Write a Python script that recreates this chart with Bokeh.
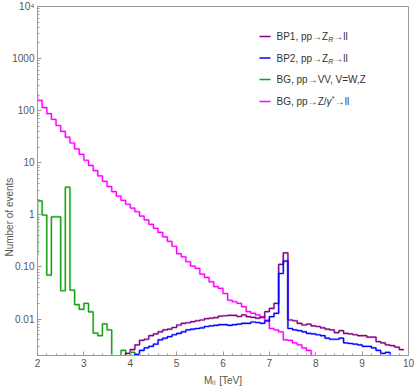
import numpy as np
from bokeh.plotting import figure
from bokeh.models import Range1d, FixedTicker, Label, BoxAnnotation
from bokeh.embed import file_html
from bokeh.resources import INLINE

# ---------------- data (events per 0.1 TeV bin) ----------------
BIN_WIDTH = 0.1

bp1_start = 3.9
bp1_events = [0.0022, 0.0026, 0.0032, 0.0039, 0.0041, 0.0048, 0.0052, 0.0057, 0.0062, 0.0064,
              0.0069, 0.0077, 0.0083, 0.0085, 0.0089, 0.0093, 0.0096, 0.0102, 0.0104, 0.0107,
              0.0114, 0.0116, 0.0118, 0.0118, 0.0112, 0.0120, 0.0111, 0.0108, 0.0104, 0.0108,
              0.0139, 0.016, 0.020, 0.112, 0.187, 0.0096, 0.0093, 0.0083, 0.0077, 0.0080,
              0.0074, 0.0072, 0.0068, 0.0064, 0.0062, 0.0055, 0.0060, 0.0053, 0.0052, 0.0050,
              0.0048, 0.0048, 0.0045, 0.0045, 0.0037, 0.0035, 0.0032, 0.0031, 0.0029, 0.0026]

bp2_start = 4.1
bp2_events = [0.0021, 0.0025, 0.0028, 0.0030, 0.0033, 0.0040, 0.0043, 0.0046, 0.0050,
              0.0053, 0.0057, 0.0062, 0.0064, 0.0066, 0.0068, 0.0072, 0.0074, 0.0076, 0.0078,
              0.0078, 0.0076, 0.0078, 0.0080, 0.0083, 0.0083, 0.0088, 0.0086, 0.0083, 0.0092,
              0.0111, 0.0129, 0.075, 0.13, 0.0066, 0.0062, 0.0060, 0.0057, 0.0053, 0.0052,
              0.0050, 0.0048, 0.0043, 0.0041, 0.0041, 0.0043, 0.0035, 0.0034, 0.0033, 0.0032,
              0.0030, 0.0030, 0.0028, 0.0025, 0.0022, 0.0023]

vv_start = 1.9
vv_events = [0.17, 1.85, 0.99, 0.07, 0.92, 0.92, 0.035, 3.4, 0.036, 0.019,
             0.0154, 0.020, 0.0138, 0.0054, 0.0048, 0.0081, 0.0062, 0, 0, 0.0025,
             0, 0.0023]

dy_start = 1.9
dy_events = [205, 158, 115, 88, 68, 52, 40, 31, 24, 18.5,
             14.5, 11.2, 8.9, 7.1, 5.6, 4.4, 3.5, 2.8, 2.3, 1.9,
             1.6, 1.35, 1.15, 0.95, 0.80, 0.66, 0.55, 0.46, 0.38, 0.31,
             0.25, 0.18, 0.157, 0.126, 0.104, 0.094, 0.073, 0.063, 0.052, 0.042,
             0.039, 0.031, 0.023, 0.0215, 0.020, 0.0173, 0.0139, 0.0129, 0.012, 0.011,
             0.0095, 0.0066, 0.0062, 0.0057, 0.0040, 0.0039, 0.0035, 0.0032, 0.0028, 0.0025,
             0.0020]

series_labels = ["BP1, pp→Z_R→ll", "BP2, pp→Z_R→ll", "BG, pp→VV, V=W,Z", "BG, pp→Z/γ*→ll"]
series_colors = ["#800080", "#0000ff", "#10a010", "#ff00ff"]

x_ticks = [2, 3, 4, 5, 6, 7, 8, 9, 10]
y_ticks = [0.01, 0.1, 1, 10, 100, 1000, 10000]
y_tick_labels = ["0.01", "0.10", "1", "10", "100", "1000", "10⁴"]
x_title = "Mₗₗ [TeV]"
y_title = "Number of events"

# ---------------- helpers ----------------
FLOOR = 1e-6


def outline(start, values, rise=True, drop=True):
    edges = start + BIN_WIDTH * np.arange(len(values) + 1)
    vals = [v if v > 0 else FLOOR for v in values]
    xs, ys = [], []
    if rise:
        xs.append(edges[0]); ys.append(FLOOR)
    for i, v in enumerate(vals):
        xs += [edges[i], edges[i + 1]]
        ys += [v, v]
    if drop:
        xs.append(edges[-1]); ys.append(FLOOR)
    return xs, ys


FONT = "Liberation Sans"
AX = "#9a9a9a"
TXT = "#555555"

p = figure(width=415, height=388, y_axis_type="log",
           x_range=Range1d(2, 10), y_range=Range1d(0.002, 1e4),
           output_backend="svg", toolbar_location=None,
           min_border_left=37, min_border_right=7, min_border_top=6, min_border_bottom=33)
p.grid.visible = False
p.outline_line_color = AX
p.background_fill_color = "white"
p.border_fill_color = "white"

minor_y = [m * 10.0 ** e for e in range(-3, 4) for m in range(2, 10)]
minor_x = [2 + 0.2 * k for k in range(41)]

p.xaxis.ticker = FixedTicker(ticks=x_ticks, minor_ticks=minor_x)
p.yaxis.ticker = FixedTicker(ticks=y_ticks, minor_ticks=minor_y)
p.yaxis.major_label_overrides = {t: l for t, l in zip(y_ticks, y_tick_labels)}

for ax in [p.xaxis[0], p.yaxis[0]]:
    ax.axis_line_color = AX
    ax.major_tick_line_color = AX
    ax.minor_tick_line_color = AX
    ax.major_tick_in = 4
    ax.major_tick_out = 0
    ax.minor_tick_in = 2
    ax.minor_tick_out = 0
    ax.major_label_text_font = FONT
    ax.major_label_text_font_size = "10px"
    ax.major_label_text_color = TXT
    ax.major_label_standoff = 3
    ax.axis_label_text_font = FONT
    ax.axis_label_text_font_size = "10px"
    ax.axis_label_text_font_style = "normal"
    ax.axis_label_text_color = TXT

p.xaxis.axis_label = x_title
p.xaxis.axis_label_standoff = 5
# trailing no-break spaces push the rotated title below the frame centre, as in the original
p.yaxis.axis_label = y_title + "\u00a0" * 26
p.yaxis.axis_label_standoff = -6

# ---------------- histograms ----------------
paths = [
    outline(dy_start, dy_events, rise=True, drop=True),
    outline(vv_start, vv_events, rise=True, drop=True),
    outline(bp1_start, bp1_events, rise=True, drop=False),
    outline(bp2_start, bp2_events, rise=True, drop=True),
]
colors_in_order = [series_colors[3], series_colors[2], series_colors[0], series_colors[1]]
for (xs, ys), c in zip(paths, colors_in_order):
    p.line(xs, ys, line_color=c, line_width=2.4, line_alpha=0.3)
    p.line(xs, ys, line_color=c, line_width=1.2)


# ---------------- legend ----------------
def lab(x, y, text, size="10px", style="normal", color=TXT, **kw):
    p.add_layout(Label(x=x, y=y, x_units="screen", y_units="screen", text=text,
                       text_font=FONT, text_font_size=size, text_font_style=style,
                       text_color=color, **kw))


LEG = "#333333"
row_y = [319, 297.5, 276, 254]
pieces = [
    [("BP1, pp→Z", 0, "normal", "10px", 0), ("R", 51.7, "italic", "7px", -3), ("→ll", 56.8, "normal", "10px", 0)],
    [("BP2, pp→Z", 0, "normal", "10px", 0), ("R", 51.7, "italic", "7px", -3), ("→ll", 56.8, "normal", "10px", 0)],
    [("BG, pp→VV, V=W,Z", 0, "normal", "10px", 0)],
    [("BG, pp→Z/", 0, "normal", "10px", 0), ("γ", 50.0, "italic", "10px", 0), ("*", 55.2, "normal", "7px", 3),
     ("→ll", 58.2, "normal", "10px", 0)],
]
for yy, c, row in zip(row_y, series_colors, pieces):
    p.add_layout(BoxAnnotation(left=222, right=233, bottom=yy - 0.8, top=yy + 0.8,
                               left_units="screen", right_units="screen",
                               bottom_units="screen", top_units="screen",
                               fill_color=c, fill_alpha=1.0, line_color=None))
    for text, dx, style, size, dy in row:
        lab(239 + dx, yy + dy, text, size=size, style=style, color=LEG, text_baseline="middle")

open("out.html", "w").write(file_html(p, INLINE))
